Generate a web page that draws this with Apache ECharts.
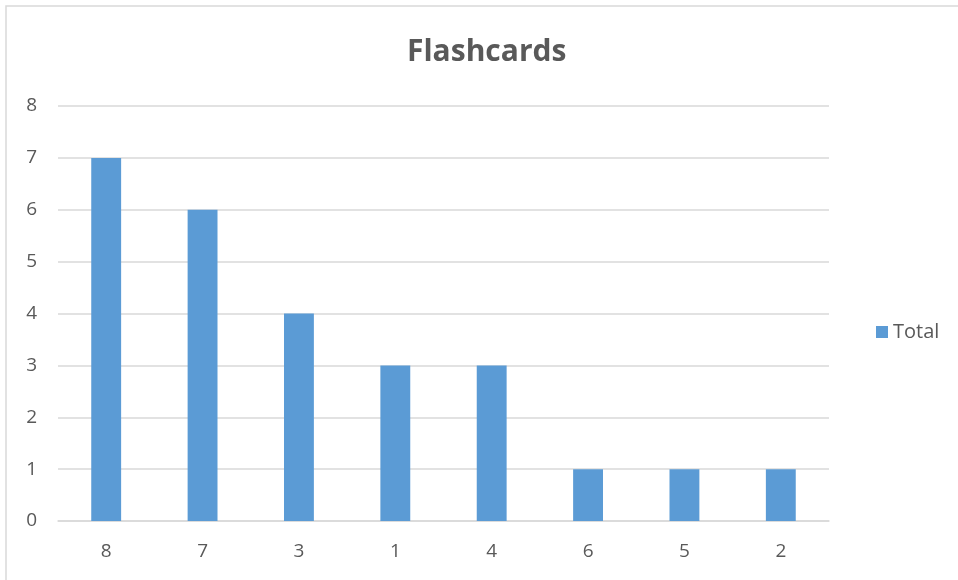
<!DOCTYPE html>
<html>
<head>
<meta charset="utf-8">
<script src="https://cdn.jsdelivr.net/npm/echarts@6/dist/echarts.min.js"></script>
<style>
  html, body { margin: 0; padding: 0; background: #fff; }
  #chart { width: 958px; height: 580px; }
</style>
</head>
<body>
<div id="chart"></div>
<script>
const categories = ['8', '7', '3', '1', '4', '6', '5', '2'];
const totals = [7, 6, 4, 3, 3, 1, 1, 1];
const yTicks = { min: 0, max: 8, interval: 1 };

const textColor = '#595959';
const fontFamily = '"Open Sans", "Noto Sans", sans-serif';

const chart = echarts.init(document.getElementById('chart'), null, { renderer: 'canvas' });
chart.setOption({
  backgroundColor: '#ffffff',
  animation: false,
  graphic: [{
    type: 'rect',
    shape: { x: 6, y: 6, width: 960, height: 590 },
    style: { fill: 'none', stroke: '#d9d9d9', lineWidth: 1.5 },
    silent: true
  }],
  title: {
    text: 'Flashcards',
    left: 402,
    top: 32,
    textStyle: { color: textColor, fontSize: 30, fontWeight: 'bold', fontFamily }
  },
  legend: {
    data: ['Total'],
    left: 871,
    top: 317,
    orient: 'vertical',
    itemWidth: 12,
    itemHeight: 12,
    itemGap: 6,
    icon: 'rect',
    textStyle: { color: textColor, fontSize: 20, fontFamily }
  },
  grid: { left: 58, right: 129, top: 106, bottom: 59 },
  xAxis: {
    type: 'category',
    data: categories,
    axisLine: { lineStyle: { color: '#d9d9d9', width: 1.5 } },
    axisTick: { show: false },
    axisLabel: { color: textColor, fontSize: 19, fontFamily, margin: 21 }
  },
  yAxis: {
    type: 'value',
    min: yTicks.min,
    max: yTicks.max,
    interval: yTicks.interval,
    axisLine: { show: false },
    axisTick: { show: false },
    axisLabel: { color: textColor, fontSize: 19, fontFamily, margin: 21 },
    splitLine: { lineStyle: { color: '#d9d9d9', width: 1.5 } }
  },
  series: [{
    name: 'Total',
    type: 'bar',
    data: totals,
    barWidth: '31%',
    itemStyle: { color: '#5b9bd5' }
  }]
});
</script>
</body>
</html>
